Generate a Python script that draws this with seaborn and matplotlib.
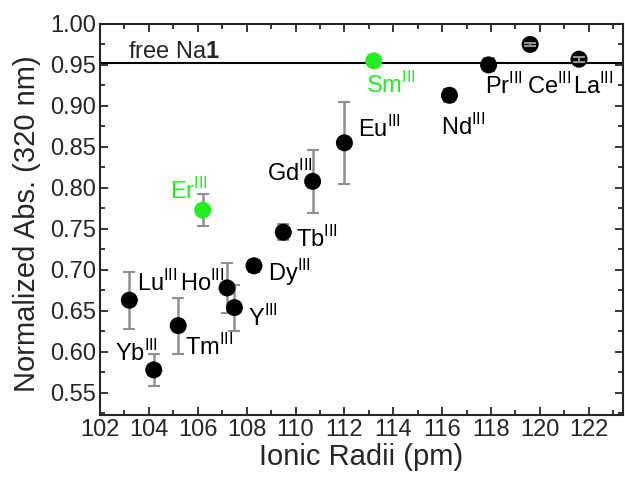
import matplotlib
matplotlib.use("Agg")
import matplotlib.pyplot as plt
import seaborn as sns
import pandas as pd
from matplotlib.ticker import MultipleLocator

ions = ["Lu", "Yb", "Tm", "Er", "Ho", "Y", "Dy", "Tb", "Gd", "Eu", "Sm", "Nd", "Pr", "Ce", "La"]
radii = [103.2, 104.2, 105.2, 106.2, 107.2, 107.5, 108.3, 109.5, 110.7, 112.0, 113.2, 116.3, 117.9, 119.6, 121.6]
absn = [0.663, 0.578, 0.632, 0.773, 0.678, 0.654, 0.705, 0.746, 0.808, 0.855, 0.955, 0.913, 0.950, 0.975, 0.957]
err = [0.035, 0.020, 0.034, 0.019, 0.031, 0.028, 0.007, 0.010, 0.038, 0.050, 0.004, 0.008, 0.008, 0.0015, 0.003]
highlight = ["Er", "Sm"]
free_na1 = 0.952

label_x = [103.51, 102.61, 105.48, 104.86, 105.27, 108.06, 108.87, 110.02, 108.83, 112.56, 112.88, 115.95, 117.75, 119.47, 121.35]
label_y = [0.6835, 0.5985, 0.6058, 0.7964, 0.6835, 0.641, 0.6968, 0.7381, 0.8182, 0.8716, 0.9262, 0.874, 0.9238, 0.9238, 0.9238]

df = pd.DataFrame({"ion": ions, "r": radii, "a": absn, "e": err})
df["grp"] = ["hl" if i in highlight else "n" for i in ions]

sns.set_style("ticks")
plt.rcParams["font.family"] = ["Liberation Sans", "DejaVu Sans"]
plt.rcParams["mathtext.fontset"] = "custom"
plt.rcParams["mathtext.rm"] = "Liberation Sans"
plt.rcParams["mathtext.bf"] = "Liberation Sans:bold"

green = "#22ee22"
fig = plt.figure(figsize=(6.25, 4.79), dpi=100)
ax = fig.add_axes([0.16, 0.1336, 0.8368, 0.8164])

ax.axhline(free_na1, color="black", lw=1.5, zorder=1)
ax.errorbar(df["r"], df["a"], yerr=df["e"], fmt="none", ecolor="#909090", elinewidth=1.8,
            capsize=4, capthick=1.5, zorder=2)
sns.scatterplot(data=df, x="r", y="a", hue="grp", palette={"n": "black", "hl": green},
                s=150, edgecolor="none", legend=False, ax=ax, zorder=3)
top = df[df["ion"].isin(["Ce", "La"])]
ax.errorbar(top["r"], top["a"], yerr=top["e"], fmt="none", ecolor="#909090", elinewidth=1.5,
            capsize=4, capthick=1.5, zorder=4)

for ion, lx, ly in zip(ions, label_x, label_y):
    c = green if ion in highlight else "black"
    ax.text(lx, ly, ion + r"$^{\mathrm{III}}$", fontsize=17, color=c, va="center", ha="left")
ax.text(103.15, 0.9663, r"free Na$\mathbf{1}$", fontsize=17, va="center", ha="left")

ax.set_xlim(102, 123.4)
ax.set_ylim(0.523, 1.0)
ax.xaxis.set_major_locator(MultipleLocator(2))
ax.xaxis.set_minor_locator(MultipleLocator(1))
ax.yaxis.set_major_locator(MultipleLocator(0.05))
ax.yaxis.set_minor_locator(MultipleLocator(0.025))
ax.yaxis.set_major_formatter(matplotlib.ticker.FormatStrFormatter("%.2f"))
ax.tick_params(which="both", direction="in", top=True, right=True, width=1.3, labelsize=17, pad=3)
ax.tick_params(which="major", length=6)
ax.tick_params(which="minor", length=3.5)
for s in ax.spines.values():
    s.set_linewidth(1.5)
ax.set_xlabel("Ionic Radii (pm)", fontsize=21, labelpad=1)
ax.set_ylabel("Normalized Abs. (320 nm)", fontsize=21)
ax.yaxis.set_label_coords(-0.112, 0.49)

fig.savefig("out.png", dpi=100)
